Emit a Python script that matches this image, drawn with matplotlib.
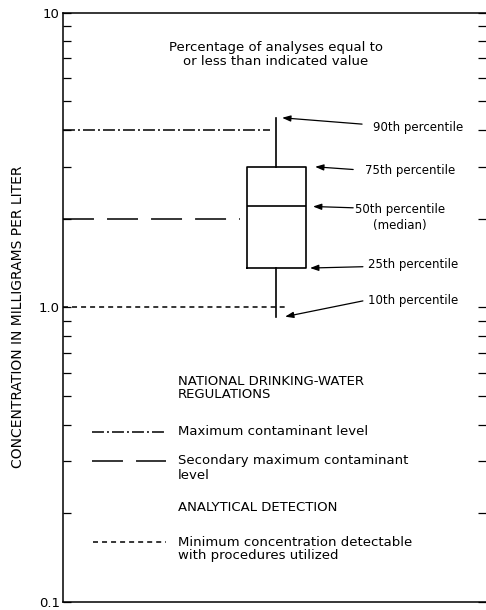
import matplotlib
matplotlib.use("Agg")
import matplotlib.pyplot as plt
from matplotlib.ticker import FixedLocator, LogLocator, NullFormatter

plt.rcParams["font.family"] = ["DejaVu Sans"]
plt.rcParams["lines.scale_dashes"] = False

# Percentiles of the concentration distribution (mg/L)
percentile_names = ["10th", "25th", "50th", "75th", "90th"]
percentile_values = [0.93, 1.36, 2.2, 3.0, 4.4]

# Regulatory and detection reference levels (mg/L)
mcl_level = 4.0
smcl_level = 2.0
detection_level = 1.0

y_ticks = [0.1, 1.0, 10]
y_tick_labels = ["0.1", "1.0", "10"]

fig = plt.figure(figsize=(4.86, 6.10), dpi=100)
ax = fig.add_axes([0.1296, 0.0131, 0.8704, 0.966])

ax.set_yscale("log")
ax.set_ylim(0.1, 10)
ax.set_xlim(0, 1)

# Box plot built from the percentile values
p10, p25, p50, p75, p90 = percentile_values
stats = [dict(whislo=p10, q1=p25, med=p50, q3=p75, whishi=p90, fliers=[])]
line_kw = dict(color="black", linewidth=1.2)
ax.bxp(stats, positions=[0.5047], widths=0.1395, showcaps=False,
       showfliers=False, boxprops=line_kw, whiskerprops=line_kw,
       medianprops=line_kw, manage_ticks=False)

dashdot = (0, (8.6, 2.2, 1.4, 2.2))
dashed = (0, (22.3, 9.4))
dotted = (0, (3.6, 2.9))

# Reference levels drawn across from the axis
ax.plot([0, 0.489], [mcl_level, mcl_level], color="black", lw=1.1, linestyle=dashdot)
ax.plot([0, 0.418], [smcl_level, smcl_level], color="black", lw=1.1, linestyle=dashed)
ax.plot([0, 0.525], [detection_level, detection_level], color="black", lw=1.1, linestyle=dotted)

# Axis styling
ax.spines["right"].set_visible(False)
for s in ("left", "top", "bottom"):
    ax.spines[s].set_linewidth(1.1)
ax.xaxis.set_visible(False)
ax.yaxis.set_major_locator(FixedLocator(y_ticks))
ax.set_yticklabels(y_tick_labels, fontsize=9.5)
ax.yaxis.set_minor_locator(LogLocator(base=10, subs=range(2, 10)))
ax.yaxis.set_minor_formatter(NullFormatter())
ax.tick_params(axis="y", which="both", direction="in", left=True, right=True,
               labelright=False, length=5.8, width=0.9, pad=2.2)
ax.set_ylabel("CONCENTRATION IN MILLIGRAMS PER LITER", fontsize=10)
ax.yaxis.set_label_coords(-0.0898, 0.4845)

# Explanation header
ax.text(0.5035, 0.929, "Percentage of analyses equal to\nor less than indicated value",
        transform=ax.transAxes, ha="center", va="center", fontsize=9.5, linespacing=1.15)

# Percentile labels with arrows to the box
arrow_kw = dict(arrowstyle="-|>,head_length=0.5,head_width=0.18", color="black", lw=0.9,
                shrinkA=0, shrinkB=0)
arrow_specs = {
    "90th": dict(head_x=0.518, tail=(0.707, 0.811), text=(0.733, 0.806)),
    "75th": dict(head_x=0.596, tail=(0.686, 0.734), text=(0.714, 0.732)),
    "50th": dict(head_x=0.591, tail=(0.686, 0.669), text=(0.690, 0.653)),
    "25th": dict(head_x=0.584, tail=(0.709, 0.569), text=(0.721, 0.572)),
    "10th": dict(head_x=0.525, tail=(0.709, 0.511), text=(0.721, 0.511)),
}
for name, value in zip(percentile_names, percentile_values):
    spec = arrow_specs[name]
    ax.annotate("", xy=(spec["head_x"], value), xycoords=("axes fraction", "data"),
                xytext=spec["tail"], textcoords="axes fraction", arrowprops=arrow_kw)
    label = f"{name} percentile"
    if name == "50th":
        label += "\n(median)"
    ax.text(*spec["text"], label, transform=ax.transAxes, ha="left", va="center",
            fontsize=8.5, multialignment="center", linespacing=1.3)

# Explanation of reference lines
tx = 0.272
ax.text(tx, 0.364, "NATIONAL DRINKING-WATER\nREGULATIONS", transform=ax.transAxes,
        ha="left", va="center", fontsize=9.5, linespacing=1.0)
ax.plot([0.0686, 0.2435], [0.289, 0.289], transform=ax.transAxes, color="black",
        lw=1.1, linestyle=dashdot)
ax.text(tx, 0.290, "Maximum contaminant level", transform=ax.transAxes,
        ha="left", va="center", fontsize=9.5)
ax.plot([0.0686, 0.2435], [0.2393, 0.2393], transform=ax.transAxes, color="black",
        lw=1.1, linestyle=dashed)
ax.text(tx, 0.2274, "Secondary maximum contaminant\nlevel", transform=ax.transAxes,
        ha="left", va="center", fontsize=9.5, linespacing=1.15)
ax.text(tx, 0.1612, "ANALYTICAL DETECTION", transform=ax.transAxes,
        ha="left", va="center", fontsize=9.5)
ax.plot([0.071, 0.2435], [0.1018, 0.1018], transform=ax.transAxes, color="black",
        lw=1.1, linestyle=dotted)
ax.text(tx, 0.0899, "Minimum concentration detectable\nwith procedures utilized",
        transform=ax.transAxes, ha="left", va="center", fontsize=9.5, linespacing=1.05)

fig.savefig("out.png", dpi=100)
